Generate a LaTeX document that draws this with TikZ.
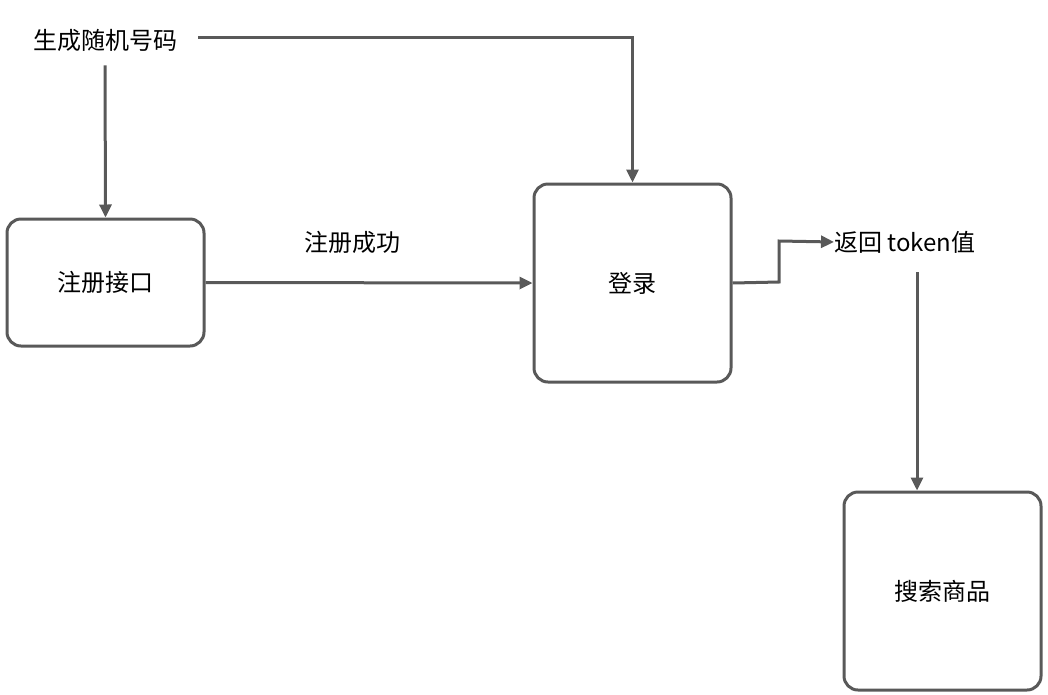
\documentclass[tikz,border=0pt]{standalone}
\usepackage{fontspec}
\setmainfont{Noto Sans CJK SC}
\usetikzlibrary{arrows.meta}
\definecolor{ln}{HTML}{595959}
\begin{document}
\begin{tikzpicture}[x=1pt,y=-1pt,
 box/.style={draw=ln,line width=3pt,rounded corners=14pt,minimum width=197pt,minimum height=127pt,inner sep=0pt,font=\fontsize{24}{28}\selectfont},
 lbl/.style={font=\fontsize{24}{28}\selectfont,inner sep=0pt},
 con/.style={draw=ln,line width=3pt,-{Triangle[length=13pt,width=12pt]}}]
\useasboundingbox (0,0) rectangle (1048,694);
\node[box] (reg) at (105.5,282.5) {注册接口};
\node[box,minimum height=198pt] (login) at (632.5,283) {登录};
\node[box,minimum height=198pt] (search) at (942.5,591) {搜索商品};
\node[lbl] (gen) at (105,40) {生成随机号码};
\node[lbl] (ok) at (352,242) {注册成功};
\node[lbl,anchor=west] (tok) at (834,242) {返回 token值};
\coordinate (g1) at (198,37);
\coordinate (t1) at (917,272);
\draw[con] (g1) -| (login.north);
\draw[con] (gen.south) ++(0,14) -- (reg.north);
\draw[con] (reg.east) -- (login.west);
\draw[con] (login.east) -- (779,282) -- (779,241) -- (tok.west);
\draw[con] (t1) -- (search.north -| t1);
\end{tikzpicture}
\end{document}
